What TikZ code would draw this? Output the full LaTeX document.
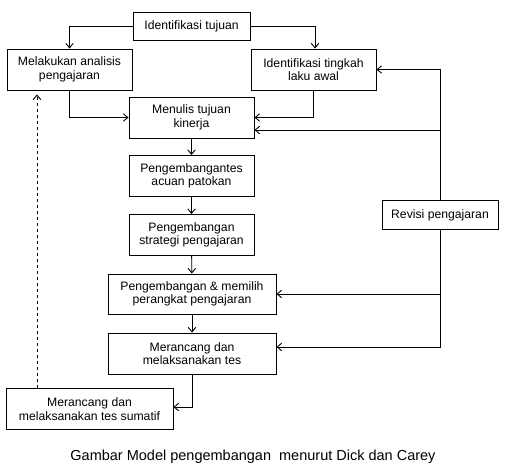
\documentclass[tikz,border=0pt]{standalone}
\usepackage{fontspec}
\setmainfont{Liberation Sans}
\usetikzlibrary{arrows.meta}

\tikzset{
  langkah/.style={draw, line width=0.9pt, align=center, inner sep=2pt,
    minimum width=125pt, minimum height=41pt,
    font=\fontsize{12.2}{13.5}\selectfont},
  panah/.style={line width=0.9pt, -{Straight Barb[length=4.5pt,width=7.5pt]}}
}

\begin{document}
\begin{tikzpicture}
 \path[use as bounding box] (0,0) rectangle (50.6em,-47.3em);

\node[langkah, minimum width=117pt, minimum height=28pt] (tujuan) at (19.15em,-2.6em) {Identifikasi tujuan};
\node[langkah] (analisis) at (6.95em,-6.95em) {Melakukan analisis\\pengajaran};
\node[langkah] (tingkah) at (31.35em,-6.95em) {Identifikasi tingkah\\laku awal};
\node[langkah] (menulis) at (19.15em,-11.75em) {Menulis tujuan\\kinerja};
\node[langkah] (patokan) at (19.15em,-17.6em) {Pengembangantes\\acuan patokan};
\node[langkah] (strategi) at (19.15em,-23.5em) {Pengembangan\\strategi pengajaran};
\node[langkah, minimum width=168pt, minimum height=40pt] (memilih) at (19.2em,-29.4em) {Pengembangan \& memilih\\perangkat pengajaran};
\node[langkah, minimum width=168pt] (tes) at (19.2em,-35.35em) {Merancang dan\\melaksanakan tes};
\node[langkah, minimum width=167pt] (sumatif) at (8.95em,-40.9em) {Merancang dan\\melaksanakan tes sumatif};
\node[langkah, minimum width=116pt, minimum height=29pt] (revisi) at (44em,-21.5em) {Revisi pengajaran};

\node[font=\fontsize{14.5}{17}\selectfont] (judul) at (25.3em,-45.7em) {Gambar Model pengembangan\ \ menurut Dick dan Carey};

\draw[panah] (tujuan.west) -| (analisis.north);
\draw[panah] (tujuan.east) -| ([xshift=0.15em]tingkah.north);
\draw[panah] (analisis.south) |- (menulis.west);
\draw[panah] (tingkah.south) |- (menulis.east);

\foreach \a/\b in {menulis/patokan, patokan/strategi, strategi/memilih, memilih/tes}
	\draw[panah] (\a) -- (\b);

\draw[panah] (tes.south) |- ([yshift=0.2em]sumatif.east);
\path ([xshift=-5.25em]sumatif.north) coordinate (balik);
\draw[panah, dashed] (balik) -- ([yshift=-0.4em]balik |- analisis.south);

\draw[panah] (revisi.north) |- (tingkah.east);
\draw[panah] (revisi.south) |- ([yshift=0.65em]tes.east);
\path ([yshift=-1.25em]menulis.east) coordinate (kinerja);
\draw[panah] (kinerja -| revisi) -- (kinerja);
\draw[panah] (memilih.east -| revisi) -- (memilih.east);

\end{tikzpicture}
\end{document}
